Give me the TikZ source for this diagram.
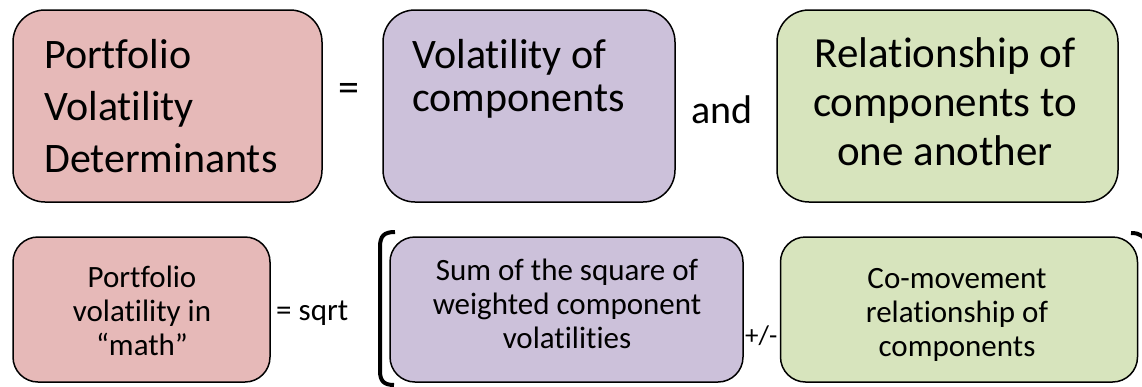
\documentclass[tikz,border=0pt]{standalone}
\usepackage{fontspec}
\setmainfont{Carlito}[Ligatures=NoCommon]
\definecolor{redfill}{HTML}{E6B9B8}
\definecolor{purplefill}{HTML}{CCC1DA}
\definecolor{greenfill}{HTML}{D7E4BD}
\begin{document}
\begin{tikzpicture}[x=1pt,y=-1pt,
  boxshape/.style={draw=black, line width=1.5pt, inner sep=0pt},
  bigbox/.style={boxshape, rounded corners=32pt, minimum height=192pt},
  smallbox/.style={boxshape, rounded corners=25pt, minimum height=145pt},
  bt/.style={font=\fontsize{42}{50}\selectfont, inner sep=0pt},
  st/.style={font=\fontsize{31}{34}\selectfont, inner sep=0pt, anchor=base},
  brack/.style={line width=4pt}]
\useasboundingbox (0,0) rectangle (1142,386);
% top row boxes
\node[bigbox, fill=redfill, minimum width=309pt] (pvd) at (167.5,106) {};
\node[bigbox, fill=purplefill, minimum width=292pt] (voc) at (529,106) {};
\node[bigbox, fill=greenfill, minimum width=341pt] (rel) at (947.5,106) {};
% top row texts
\node[bt, anchor=base west] (pvd1) at (44,68) {Portfolio};
\node[bt, anchor=base west] (pvd2) at (44,120) {Volatility};
\node[bt, anchor=base west] (pvd3) at (44,172) {Determinants};
\node[bt, anchor=base west] (voc1) at (412,68) {Volatility of};
\node[bt, anchor=base west] (voc2) at (412,111) {components};
\node[bt, anchor=base, font=\fontsize{43}{50}\selectfont] (rel1) at (945,67) {Relationship of};
\node[bt, anchor=base, font=\fontsize{43}{50}\selectfont] (rel2) at (945,116) {components to};
\node[bt, anchor=base, font=\fontsize{43}{50}\selectfont] (rel3) at (945,165) {one another};
\node[bt] (eq1) at (348.5,92) {=};
\node[bt, anchor=base west, font=\fontsize{40}{48}\selectfont] (and) at (691,123) {and};
% bottom row boxes
\node[smallbox, fill=redfill, minimum width=257pt] (pvm) at (141.5,309.5) {};
\node[smallbox, fill=purplefill, minimum width=353pt] (sum) at (566.5,309.5) {};
\node[smallbox, fill=greenfill, minimum width=357pt] (com) at (959,309.5) {};
% bottom row texts outside boxes
\node[st, anchor=base west] (sqrt) at (276,320) {= sqrt};
\node[st, anchor=base west, font=\fontsize{27}{34}\selectfont] (pm) at (745,344) {+/-};
% bottom row texts
\node[st] (pvm1) at (142,287) {Portfolio};
\node[st] (pvm2) at (142,321) {volatility in};
\node[st] (pvm3) at (142,355) {“math”};
\node[st] (sum1) at (567,280) {Sum of the square of};
\node[st] (sum2) at (567,314) {weighted component};
\node[st] (sum3) at (567,348) {volatilities};
\node[st] (com1) at (957,288) {Co-movement};
\node[st] (com2) at (957,322) {relationship of};
\node[st] (com3) at (957,356) {components};
% brackets
\coordinate (lbt) at (395,232);
\coordinate (lbb) at (394,385);
\draw[brack] (lbt) .. controls (384,232) and (380,236) .. (380,247) -- (380,371) .. controls (380,381) and (384,385) .. (lbb);
\coordinate (rbt) at (1131,233);
\draw[brack] (rbt) .. controls (1140,233) and (1145,236) .. (1147,246) -- (1147,380);
\end{tikzpicture}
\end{document}
